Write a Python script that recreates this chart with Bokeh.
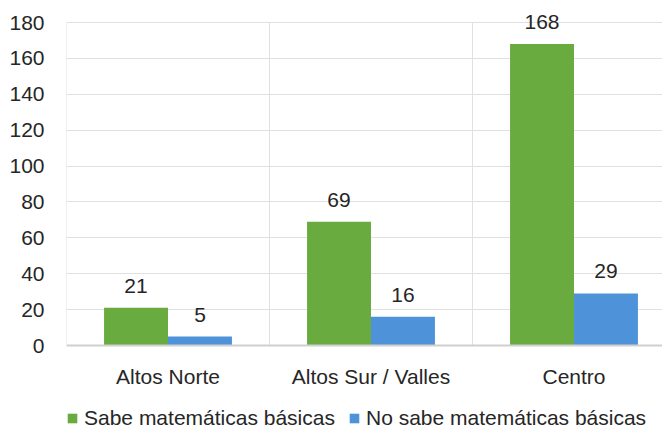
from bokeh.plotting import figure
from bokeh.models import Range1d, FixedTicker, ColumnDataSource, Legend, LegendItem, LabelSet
from bokeh.embed import file_html
from bokeh.resources import INLINE
from bokeh.core.properties import value

categories = ["Altos Norte", "Altos Sur / Valles", "Centro"]
sabe = [21, 69, 168]
no_sabe = [5, 16, 29]
y_ticks = [0, 20, 40, 60, 80, 100, 120, 140, 160, 180]
series_names = ["Sabe matemáticas básicas", "No sabe matemáticas básicas"]

GREEN = "#6AAB40"
BLUE = "#4E93DA"
GRID = "#E0E0E0"
FONT = "Liberation Sans"
TXT = "#262626"
FS = "21px"

# layout (pixels): canvas 431 tall, value 0 at 345 px, value 180 at 22 px
PX_PER_UNIT = (345 - 22) / 180
y_max = y_ticks[-1]
y_start = -(431 - 345) / PX_PER_UNIT
y_end = y_max + 22 / PX_PER_UNIT

p = figure(frame_width=596, frame_height=431, output_backend="svg", toolbar_location=None,
           x_range=Range1d(0, 2.936), y_range=Range1d(y_start, y_end),
           min_border_left=66, min_border_top=0, min_border_right=0, min_border_bottom=0)
p.outline_line_color = None
p.background_fill_color = "white"
p.xaxis.visible = False

# horizontal gridlines (0..180) and vertical separators between categories
p.ygrid.ticker = FixedTicker(ticks=y_ticks)
p.ygrid.grid_line_color = GRID
p.ygrid.grid_line_width = 1
p.xgrid.grid_line_color = None
seps = list(range(len(categories) + 1))
p.segment(x0=seps, y0=[0] * len(seps), x1=seps, y1=[y_max] * len(seps),
          line_color=GRID, line_width=1)

centers = [i + 0.5 for i in range(len(categories))]
bw = 0.315
src_a = ColumnDataSource(dict(x=[c - bw / 2 for c in centers], top=sabe, lab=[str(v) for v in sabe]))
src_b = ColumnDataSource(dict(x=[c + bw / 2 for c in centers], top=no_sabe, lab=[str(v) for v in no_sabe]))

ra = p.vbar(x="x", top="top", bottom=0, width=bw, source=src_a, fill_color=GREEN, line_color=None)
rb = p.vbar(x="x", top="top", bottom=0, width=bw, source=src_b, fill_color=BLUE, line_color=None)

# baseline (category axis line)
p.segment(x0=[0], y0=[0], x1=[3], y1=[0], line_color="#D0D0D0", line_width=2)

for s in (src_a, src_b):
    p.add_layout(LabelSet(x="x", y="top", text="lab", source=s, y_offset=15, text_align="center",
                          text_baseline="alphabetic", text_font=value(FONT),
                          text_font_size=value(FS), text_color=TXT))

# category labels
src_c = ColumnDataSource(dict(x=centers, y=[0] * len(centers), lab=categories))
p.add_layout(LabelSet(x="x", y="y", text="lab", source=src_c, y_offset=-31, text_align="center",
                      text_baseline="middle", text_font=value(FONT),
                      text_font_size=value(FS), text_color=TXT))

# y axis
p.yaxis.ticker = FixedTicker(ticks=y_ticks)
p.yaxis.axis_line_color = None
p.yaxis.major_tick_line_color = None
p.yaxis.minor_tick_line_color = None
p.yaxis.major_label_standoff = 16
p.yaxis.major_label_text_font = FONT
p.yaxis.major_label_text_font_size = FS
p.yaxis.major_label_text_color = TXT

legend = Legend(items=[LegendItem(label=series_names[0], renderers=[ra]),
                       LegendItem(label=series_names[1], renderers=[rb])],
                orientation="horizontal", location=(0, 1))
legend.border_line_color = None
legend.background_fill_alpha = 0
legend.label_text_font = FONT
legend.label_text_font_size = FS
legend.label_text_color = TXT
legend.glyph_width = 12
legend.glyph_height = 12
legend.label_standoff = 6
legend.spacing = 13
legend.padding = 0
legend.margin = 0
p.add_layout(legend, "center")

open("out.html", "w").write(file_html(p, INLINE))
